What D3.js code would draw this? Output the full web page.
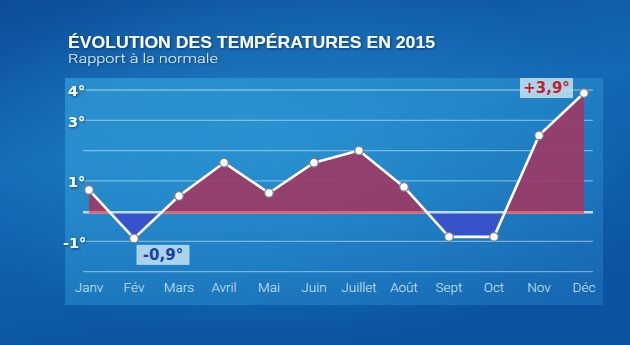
<!DOCTYPE html>
<html><head><meta charset="utf-8">
<script src="https://cdn.jsdelivr.net/npm/d3@7"></script>
<style>html,body{margin:0;padding:0;background:#0d57a5;}svg{display:block;}</style>
</head><body>
<script>
const months = ["Janv","Fév","Mars","Avril","Mai","Juin","Juillet","Août","Sept","Oct","Nov","Déc"];
const anomalies = [0.7, -0.9, 0.5, 1.6, 0.6, 1.6, 2.0, 0.8, -0.85, -0.85, 2.5, 3.9];
const gridTicks = [4, 3, 2, 1, 0, -1, -2];
const tickLabels = [{v:4,t:"4°"},{v:3,t:"3°"},{v:1,t:"1°"},{v:-1,t:"-1°"}];
const callouts = [{i:1,t:"-0,9°",color:"#1a3ea6",pos:"below"},{i:11,t:"+3,9°",color:"#c21f2e",pos:"left"}];
const title = "ÉVOLUTION DES TEMPÉRATURES EN 2015";
const subtitle = "Rapport à la normale";

const W=630,H=345;
const svg=d3.select("body").append("svg").attr("width",W).attr("height",H);
const defs=svg.append("defs");
const bg=defs.append("linearGradient").attr("id","bg").attr("x1",0).attr("y1",0).attr("x2",0.3).attr("y2",1);
bg.append("stop").attr("offset",0).attr("stop-color","#0c4d98");
bg.append("stop").attr("offset",0.45).attr("stop-color","#1468b5");
bg.append("stop").attr("offset",1).attr("stop-color","#0b54a3");
svg.append("rect").attr("width",W).attr("height",H).attr("fill","url(#bg)");
const glow=defs.append("radialGradient").attr("id","glow").attr("cx",0.45).attr("cy",0.45).attr("r",0.55);
glow.append("stop").attr("offset",0).attr("stop-color","#2fa0dc").attr("stop-opacity",0.5);
glow.append("stop").attr("offset",1).attr("stop-color","#2fa0dc").attr("stop-opacity",0);
svg.append("rect").attr("width",W).attr("height",H).attr("fill","url(#glow)");

const shadow=defs.append("filter").attr("id","sh").attr("x","-5%").attr("y","-20%").attr("width","110%").attr("height","140%");
shadow.append("feDropShadow").attr("dx",1).attr("dy",1).attr("stdDeviation",0.8).attr("flood-color","#032a5a").attr("flood-opacity",0.7);

// titles
svg.append("text").attr("x",68).attr("y",47.5).attr("fill","#ffffff").attr("filter","url(#sh)")
  .attr("font-family","Liberation Sans, Arial, sans-serif").attr("font-weight","bold").attr("font-size",16.5)
  .attr("textLength",367).attr("lengthAdjust","spacingAndGlyphs").text(title);
svg.append("text").attr("x",68).attr("y",62.5).attr("fill","#e8f2fa").attr("filter","url(#sh)")
  .attr("font-family","Roboto, sans-serif").attr("font-weight",300).attr("font-size",13)
  .attr("textLength",150).attr("lengthAdjust","spacingAndGlyphs").text(subtitle);

// panel
const pg=defs.append("linearGradient").attr("id","pg").attr("x1",0).attr("y1",0).attr("x2",1).attr("y2",1);
pg.append("stop").attr("offset",0).attr("stop-color","#3ab0e4").attr("stop-opacity",0.55);
pg.append("stop").attr("offset",0.5).attr("stop-color","#2d9bd6").attr("stop-opacity",0.45);
pg.append("stop").attr("offset",1).attr("stop-color","#2a86cc").attr("stop-opacity",0.4);
svg.append("rect").attr("x",65).attr("y",78).attr("width",538).attr("height",227).attr("fill","url(#pg)");

const x=d3.scalePoint().domain(months).range([89,584]);
const y=d3.scaleLinear().domain([-2,4]).range([271.7,90]);
const gx0=83,gx1=593;

// grid
svg.append("g").selectAll("line").data(gridTicks.filter(d=>d!==0)).join("line")
  .attr("x1",gx0).attr("x2",gx1).attr("y1",d=>y(d)).attr("y2",d=>y(d))
  .attr("stroke","#cfeaf8").attr("stroke-opacity",0.5).attr("stroke-width",1.3);

// y labels
svg.append("g").selectAll("text").data(tickLabels).join("text")
  .attr("x",d=>d.v<0?63:68).attr("y",d=>y(d.v)+1).attr("dy","0.36em")
  .attr("fill","#ffffff").attr("font-family","DejaVu Sans, Verdana, sans-serif").attr("font-weight","bold")
  .attr("font-size",14.5).attr("filter","url(#sh)").text(d=>d.t);

// month labels
svg.append("g").selectAll("text").data(months).join("text")
  .attr("x",d=>x(d)).attr("y",292).attr("text-anchor","middle")
  .attr("fill","#d6ecf8").attr("font-family","Roboto, sans-serif").attr("font-weight",300)
  .attr("font-size",13.5).text(d=>d);

const data=months.map((m,i)=>({m,v:anomalies[i]}));
const y0=y(0);
defs.append("clipPath").attr("id","above").append("rect").attr("x",0).attr("y",0).attr("width",W).attr("height",y0);
defs.append("clipPath").attr("id","below").append("rect").attr("x",0).attr("y",y0).attr("width",W).attr("height",H-y0);

const area=d3.area().x(d=>x(d.m)).y0(y0).y1(d=>y(d.v));
svg.append("path").datum(data).attr("d",area).attr("fill","#9c3a66").attr("fill-opacity",0.92).attr("clip-path","url(#above)");
svg.append("path").datum(data).attr("d",area).attr("fill","#3a4fcc").attr("fill-opacity",0.92).attr("clip-path","url(#below)");

// zero line: light base, red where positive
svg.append("line").attr("x1",gx0).attr("x2",gx1).attr("y1",y0+1).attr("y2",y0+1)
  .attr("stroke","#b8def2").attr("stroke-width",2.5);
const segs=[];let start=null;
for(let i=0;i<data.length;i++){
  const d=data[i];
  if(d.v>0 && start===null){
    if(i===0) start=x(d.m);
    else {const p=data[i-1];const t=p.v/(p.v-d.v);start=x(p.m)+t*(x(d.m)-x(p.m));}
  }
  if(d.v<=0 && start!==null){
    const p=data[i-1];const t=p.v/(p.v-d.v);segs.push([start,x(p.m)+t*(x(d.m)-x(p.m))]);start=null;
  }
}
if(start!==null) segs.push([start,x(data[data.length-1].m)]);
svg.append("g").selectAll("line").data(segs).join("line")
  .attr("x1",d=>d[0]).attr("x2",d=>d[1]).attr("y1",y0+1).attr("y2",y0+1)
  .attr("stroke","#e8606e").attr("stroke-width",2.5);

// line
svg.append("path").datum(data).attr("d",d3.line().x(d=>x(d.m)).y(d=>y(d.v)))
  .attr("fill","none").attr("stroke","#ffffff").attr("stroke-width",2.6).attr("stroke-linejoin","round");
svg.append("g").selectAll("circle").data(data).join("circle")
  .attr("cx",d=>x(d.m)).attr("cy",d=>y(d.v)).attr("r",4.3)
  .attr("fill","#ffffff").attr("stroke","#7a7f86").attr("stroke-width",1.3);

// callouts
callouts.forEach(c=>{
  const d=data[c.i];const cx=x(d.m),cy=y(d.v);
  let bx,by;const bw=53,bh=20;
  if(c.pos==="below"){bx=cx+2.5;by=cy+6.5;}else{bx=cx-64;by=cy-15;}
  svg.append("rect").attr("x",bx).attr("y",by).attr("width",bw).attr("height",bh).attr("fill","#c4e2f0").attr("fill-opacity",0.85);
  svg.append("text").attr("x",bx+bw/2).attr("y",by+bh/2).attr("dy","0.36em").attr("text-anchor","middle")
    .attr("fill",c.color).attr("font-family","DejaVu Sans, Verdana, sans-serif").attr("font-weight","bold")
    .attr("font-size",15).text(c.t);
});
</script>
</body></html>
